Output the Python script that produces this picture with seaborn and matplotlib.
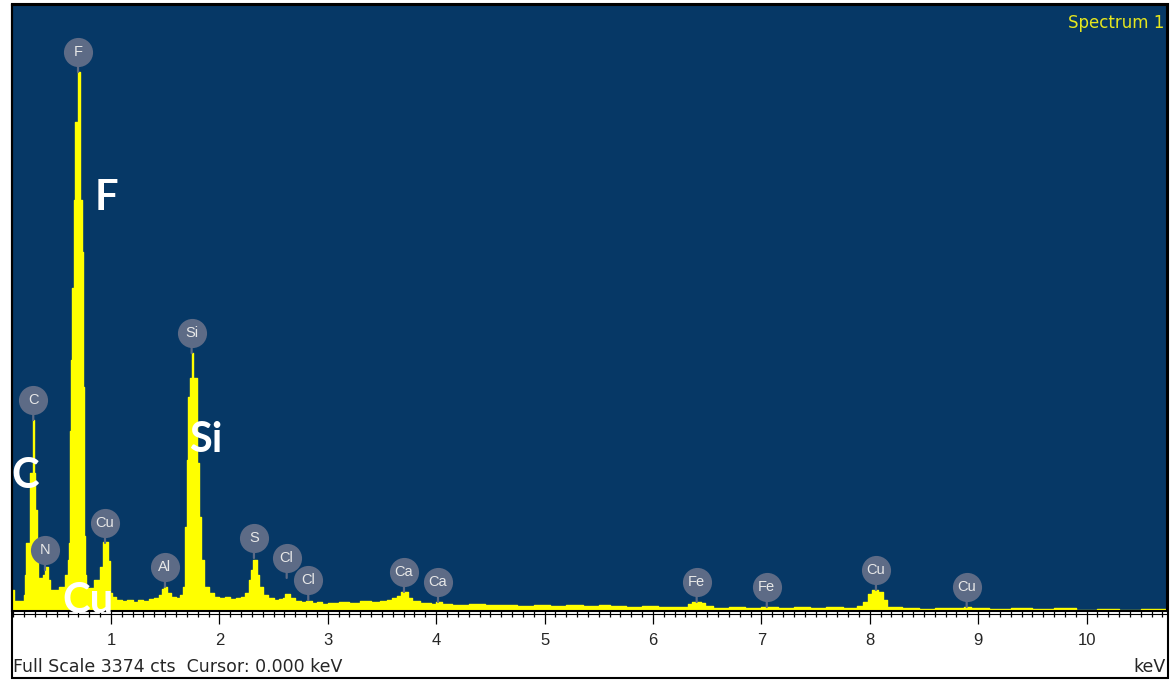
import matplotlib
matplotlib.use("Agg")
import matplotlib.pyplot as plt
import matplotlib.transforms as mtransforms
from matplotlib.patches import Rectangle
from matplotlib.lines import Line2D
from matplotlib.ticker import MultipleLocator
import seaborn as sns

# EDS spectrum: channel start (keV) and counts
energy_kev = [0.08, 0.11, 0.20, 0.21, 0.22, 0.25, 0.28, 0.29, 0.30, 0.32,
              0.33, 0.34, 0.37, 0.39, 0.42, 0.44, 0.52, 0.58, 0.60, 0.61,
              0.62, 0.63, 0.64, 0.66, 0.67, 0.70, 0.71, 0.73, 0.74, 0.75,
              0.76, 0.77, 0.84, 0.90, 0.93, 0.97, 0.99, 1.01, 1.05, 1.10,
              1.15, 1.20, 1.25, 1.30, 1.35, 1.40, 1.44, 1.47, 1.49, 1.52,
              1.55, 1.60, 1.64, 1.66, 1.68, 1.70, 1.715, 1.73, 1.745, 1.755,
              1.79, 1.815, 1.835, 1.86, 1.90, 1.95, 2.00, 2.05, 2.10, 2.15,
              2.20, 2.24, 2.27, 2.29, 2.31, 2.35, 2.37, 2.40, 2.45, 2.50,
              2.55, 2.59, 2.61, 2.65, 2.70, 2.75, 2.80, 2.85, 2.90, 2.95,
              3.00, 3.10, 3.20, 3.30, 3.40, 3.48, 3.55, 3.59, 3.64, 3.68,
              3.74, 3.78, 3.85, 3.95, 4.00, 4.05, 4.15, 4.30, 4.45, 4.60,
              4.75, 4.90, 5.05, 5.20, 5.35, 5.50, 5.60, 5.75, 5.90, 6.05,
              6.20, 6.32, 6.36, 6.44, 6.48, 6.55, 6.70, 6.85, 7.00, 7.15,
              7.30, 7.45, 7.60, 7.75, 7.88, 7.94, 7.98, 8.02, 8.08, 8.12,
              8.16, 8.30, 8.45, 8.60, 8.80, 8.87, 8.93, 9.10, 9.30, 9.50,
              9.70, 9.90, 10.10, 10.30, 10.50, 10.74]
counts = [117, 55, 90, 200, 379, 768, 1061, 768, 562, 379,
          172, 185, 200, 245, 172, 117, 134, 200, 284, 379,
          1000, 1400, 1800, 2288, 2723, 3001, 2288, 2000, 1247, 420,
          200, 128, 172, 245, 384, 280, 100, 78, 61, 55,
          61, 50, 61, 55, 67, 72, 90, 120, 134, 100,
          78, 72, 90, 134, 468, 840, 1190, 1297, 1436, 1297,
          824, 523, 284, 134, 100, 78, 72, 78, 67, 72,
          78, 100, 172, 230, 284, 200, 134, 90, 70, 61,
          67, 72, 95, 70, 55, 50, 55, 45, 50, 40,
          45, 50, 45, 55, 50, 55, 60, 72, 85, 106,
          72, 55, 45, 40, 50, 40, 35, 40, 33, 35,
          30, 33, 28, 33, 30, 35, 28, 25, 28, 22,
          25, 40, 50, 45, 28, 17, 22, 17, 22, 17,
          22, 17, 22, 17, 28, 50, 95, 117, 106, 60,
          22, 17, 11, 17, 14, 22, 17, 11, 14, 11,
          14, 8, 11, 8, 11, 8]

# element markers: name, energy of the stem and where the stem ends
line_names = ["C", "N", "F", "Cu", "Al", "Si", "S", "Cl", "Cl",
              "Ca", "Ca", "Fe", "Fe", "Cu", "Cu"]
line_kev = [0.283, 0.391, 0.696, 0.945, 1.498, 1.744, 2.319, 2.621, 2.820,
            3.703, 4.017, 6.403, 7.050, 8.057, 8.894]
line_top = [1063, 228, 3001, 379, 134, 1436, 295, 184, 61,
            106, 50, 50, 22, 117, 22]

# large white annotations (baseline positions)
big_names = ["F", "Si", "C", "Cu"]
big_kev = [0.954, 1.876, 0.205, 0.783]
big_counts = [2233, 885, 685, -11]

full_scale = 3374
xticks = list(range(1, 11))

sns.set_style("white")
plt.rcParams['font.family'] = ['Liberation Sans', 'DejaVu Sans']

W, H = 1171, 680
fig = plt.figure(figsize=(W / 100, H / 100), dpi=100)
ax = fig.add_axes([12 / W, 1 - 611 / H, (1167 - 12) / W, (611 - 5) / H])
ax.set_facecolor('#063866')

ax.fill_between(energy_kev, counts, step='post', color='#ffff00', lw=0, zorder=2)
sns.lineplot(x=energy_kev, y=counts, drawstyle='steps-post', color='#ffff00',
             lw=1, estimator=None, ax=ax, zorder=2)

ax.set_xlim(0.087, 10.742)
ax.set_ylim(0, full_scale)
ax.set_yticks([])
ax.set_xticks(xticks)
ax.set_xticklabels([str(t) for t in xticks])
ax.xaxis.set_minor_locator(MultipleLocator(0.1))
ax.tick_params(axis='x', which='major', direction='out', length=9.5, width=0.9,
               color='black', labelsize=12, pad=6, bottom=True)
ax.tick_params(axis='x', which='minor', direction='out', length=4.5, width=0.9,
               color='black', bottom=True)
for s in ax.spines.values():
    s.set_color('black')
    s.set_linewidth(1.5)

# element circles
grey = '#5d6b86'
up = mtransforms.offset_copy(ax.transData, fig=fig, x=0, y=20, units='dots')
for name, e, top in zip(line_names, line_kev, line_top):
    ax.annotate('', xy=(e, top), xytext=(0, 20), textcoords='offset pixels',
                arrowprops=dict(arrowstyle='-', color=grey, lw=1.6,
                                shrinkA=0, shrinkB=0), zorder=4)
    ax.scatter([e], [top], s=440, color=grey, transform=up, zorder=5, lw=0)
    ax.text(e, top, name, transform=up, ha='center', va='center',
            fontsize=10.5, color='#e8e8e8', zorder=6)

for name, e, c in zip(big_names, big_kev, big_counts):
    ax.text(e, c, name, ha='center', va='baseline', fontsize=30,
            fontweight='bold', family='Lato', color='white', zorder=7)

ax.text(0.998, 0.985, 'Spectrum 1', transform=ax.transAxes, ha='right',
        va='top', fontsize=12, family='DejaVu Sans', color='#e6e61e')

# lower strip frame and texts
fig.add_artist(Rectangle((12 / W, 1 - 678 / H), (1168 - 12) / W, (678 - 4) / H,
                         transform=fig.transFigure, fill=False, ec='black',
                         lw=1.5, zorder=10))
fig.add_artist(Line2D([12 / W, 1167 / W], [1 - 614 / H, 1 - 614 / H],
                      transform=fig.transFigure, color='black', lw=0.8))
fig.text(13 / W, 1 - 672 / H, 'Full Scale %d cts  Cursor: 0.000 keV' % full_scale,
         ha='left', va='baseline', fontsize=12.5, family='DejaVu Sans')
fig.text(1166 / W, 1 - 672 / H, 'keV', ha='right', va='baseline',
         fontsize=12.5, family='DejaVu Sans')

fig.savefig('out.png', dpi=100)
